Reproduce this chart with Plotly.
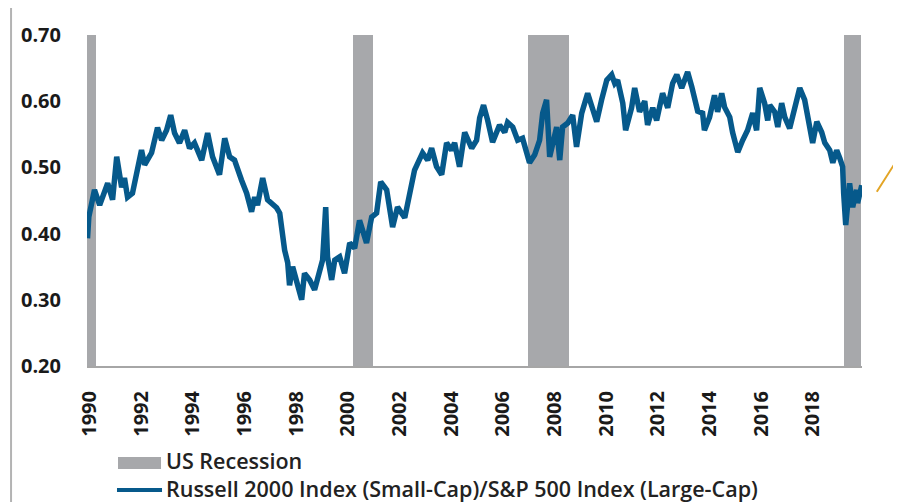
import plotly.graph_objects as go

# Russell 2000 / S&P 500 price ratio (x in the chart's year units)
years = [1989.92, 1989.97, 1990.19, 1990.39, 1990.70, 1990.89, 1991.05, 1991.24, 1991.35, 1991.47,
         1991.66, 1991.82, 1992.01, 1992.13, 1992.25, 1992.40, 1992.63, 1992.79, 1992.98, 1993.14,
         1993.29, 1993.48, 1993.68, 1993.87, 1994.06, 1994.34, 1994.57, 1994.76, 1995.03, 1995.23,
         1995.42, 1995.61, 1995.88, 1996.08, 1996.27, 1996.39, 1996.50, 1996.70, 1996.89, 1997.24,
         1997.36, 1997.55, 1997.67, 1997.74, 1997.86, 1998.05, 1998.21, 1998.32, 1998.52, 1998.71,
         1998.90, 1999.02, 1999.14, 1999.21, 1999.37, 1999.49, 1999.68, 1999.87, 2000.07, 2000.26,
         2000.45, 2000.72, 2000.92, 2001.11, 2001.27, 2001.50, 2001.73, 2001.92, 2002.20, 2002.39,
         2002.58, 2002.89, 2003.09, 2003.24, 2003.43, 2003.63, 2003.82, 2004.01, 2004.13, 2004.32,
         2004.52, 2004.79, 2004.98, 2005.10, 2005.25, 2005.41, 2005.60, 2005.87, 2006.07, 2006.18,
         2006.38, 2006.57, 2006.76, 2006.92, 2007.03, 2007.23, 2007.42, 2007.54, 2007.69, 2007.81,
         2007.92, 2008.08, 2008.20, 2008.31, 2008.51, 2008.70, 2008.85, 2009.05, 2009.28, 2009.47,
         2009.63, 2009.82, 2010.02, 2010.21, 2010.33, 2010.44, 2010.64, 2010.75, 2010.98, 2011.10,
         2011.29, 2011.49, 2011.60, 2011.80, 2011.95, 2012.18, 2012.38, 2012.57, 2012.73, 2012.92,
         2013.15, 2013.31, 2013.42, 2013.54, 2013.73, 2013.80, 2014.00, 2014.19, 2014.31, 2014.47,
         2014.58, 2014.78, 2014.89, 2015.09, 2015.28, 2015.47, 2015.67, 2015.82, 2015.94, 2016.13,
         2016.25, 2016.33, 2016.52, 2016.64, 2016.79, 2016.91, 2017.10, 2017.37, 2017.49, 2017.68,
         2017.80, 2017.99, 2018.15, 2018.34, 2018.46, 2018.65, 2018.77, 2018.92, 2019.04, 2019.15,
         2019.19, 2019.27, 2019.35, 2019.42, 2019.54, 2019.69, 2019.73, 2019.89]
ratio = [0.393, 0.425, 0.466, 0.443, 0.476, 0.451, 0.516, 0.470, 0.484, 0.455,
         0.461, 0.492, 0.526, 0.504, 0.511, 0.522, 0.560, 0.541, 0.556, 0.579,
         0.552, 0.537, 0.556, 0.529, 0.537, 0.511, 0.552, 0.516, 0.489, 0.544,
         0.516, 0.511, 0.481, 0.461, 0.433, 0.455, 0.443, 0.484, 0.451, 0.439,
         0.431, 0.375, 0.356, 0.322, 0.350, 0.319, 0.300, 0.340, 0.330, 0.315,
         0.340, 0.360, 0.440, 0.365, 0.330, 0.360, 0.365, 0.340, 0.386, 0.378,
         0.420, 0.386, 0.425, 0.431, 0.478, 0.466, 0.410, 0.440, 0.424, 0.461,
         0.496, 0.522, 0.511, 0.529, 0.501, 0.489, 0.537, 0.526, 0.537, 0.501,
         0.553, 0.529, 0.541, 0.575, 0.594, 0.571, 0.538, 0.564, 0.553, 0.568,
         0.561, 0.541, 0.544, 0.522, 0.507, 0.519, 0.541, 0.582, 0.602, 0.516,
         0.537, 0.561, 0.511, 0.561, 0.567, 0.579, 0.531, 0.582, 0.612, 0.587,
         0.569, 0.602, 0.632, 0.640, 0.627, 0.632, 0.597, 0.556, 0.590, 0.620,
         0.584, 0.600, 0.564, 0.590, 0.571, 0.612, 0.590, 0.627, 0.640, 0.620,
         0.644, 0.622, 0.600, 0.585, 0.582, 0.556, 0.576, 0.609, 0.584, 0.612,
         0.591, 0.576, 0.553, 0.523, 0.541, 0.556, 0.582, 0.556, 0.620, 0.597,
         0.571, 0.594, 0.584, 0.561, 0.597, 0.576, 0.559, 0.597, 0.620, 0.602,
         0.576, 0.537, 0.569, 0.553, 0.537, 0.526, 0.507, 0.526, 0.514, 0.501,
         0.461, 0.413, 0.446, 0.476, 0.440, 0.466, 0.446, 0.473]

# US recession shading, start / end on the same year axis
rec_start = [1989.90, 2000.18, 2006.97, 2019.20]
rec_end = [1990.26, 2000.96, 2008.57, 2019.88]
rec_floor = 0.20
rec_top = 0.70

tick_years = list(range(1990, 2019, 2))
y_ticks = [0.20, 0.30, 0.40, 0.50, 0.60, 0.70]

rec_name = "US Recession"
ratio_name = "Russell 2000 Index (Small-Cap)/S&P 500 Index (Large-Cap)"

blue = "#06598b"
grey = "#a7a8ab"
font = "Open Sans"

fig = go.Figure()

fig.add_trace(go.Bar(
    x=[(s + e) / 2 for s, e in zip(rec_start, rec_end)],
    y=[rec_top - rec_floor] * len(rec_start),
    base=rec_floor,
    width=[e - s for s, e in zip(rec_start, rec_end)],
    marker=dict(color=grey, line=dict(width=0)),
    name=rec_name, showlegend=False,
))

fig.add_trace(go.Scatter(
    x=years, y=ratio, mode="lines",
    line=dict(color=blue, width=5.5),
    name=ratio_name, showlegend=False,
))

# the frame of the original slide, cut off at the right and bottom
fig.add_shape(type="rect", xref="paper", yref="paper",
              x0=-0.098, x1=1.2, y0=-0.5, y1=1.088,
              line=dict(color="#b3b3b3", width=2), fillcolor="rgba(0,0,0,0)", layer="below")

# legend below the axis, drawn by hand so the keys keep their wide shape
fig.add_shape(type="rect", xref="paper", yref="paper",
              x0=0.040, x1=0.0955, y0=-0.3112, y1=-0.2749,
              line=dict(width=0), fillcolor=grey)
fig.add_shape(type="line", xref="paper", yref="paper",
              x0=0.0387, x1=0.0968, y0=-0.3746, y1=-0.3746,
              line=dict(color=blue, width=4))
for label, ypos in [(rec_name, -0.2840), (ratio_name, -0.3716)]:
    fig.add_annotation(xref="paper", yref="paper", x=0.1006, y=ypos,
                       xanchor="left", yanchor="middle", text=label, showarrow=False,
                       borderpad=0,
                       font=dict(family=font, size=21.5, color="#222222", weight=600))

# orange arrow at the right edge
fig.add_annotation(xref="paper", yref="paper", x=1.054, y=0.655, ax=-28, ay=44,
                   text="", showarrow=True, arrowhead=2, arrowsize=1, arrowwidth=2,
                   arrowcolor="#e3a526")

# the page body adds 8px around the figure, so the margins are 8px smaller
fig.update_layout(
    width=901, height=502, autosize=False,
    margin=dict(l=79, r=47, t=27, b=144),
    plot_bgcolor="white", paper_bgcolor="white",
    showlegend=False,
    bargap=0,
)

fig.update_xaxes(
    range=[1989.9, 2019.9], tickvals=tick_years, ticktext=[str(y) for y in tick_years],
    tickangle=-90, showgrid=False, zeroline=False, showline=True, automargin=False,
    linecolor="#a6a6a6", linewidth=2, ticks="", ticklabelstandoff=15,
    tickfont=dict(family=font, size=20, color="#1a1a1a", weight="bold"),
)
fig.update_yaxes(
    range=[0.2, 0.7], tickvals=y_ticks, tickformat=".2f", automargin=False,
    showgrid=False, zeroline=False, showline=False, ticks="", ticklabelstandoff=25,
    tickfont=dict(family=font, size=20, color="#1a1a1a", weight="bold"),
)

fig.write_html("out.html")
